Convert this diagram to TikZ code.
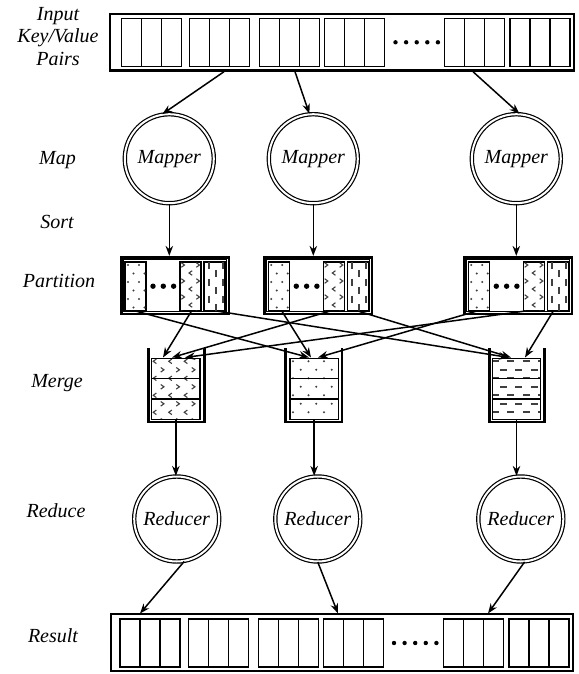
\documentclass[tikz,border=0pt]{standalone}
\usepackage{fontspec}
\setmainfont{Liberation Serif}
\usetikzlibrary{arrows.meta,calc}
\tikzset{
  lab/.style={font=\itshape\fontsize{20}{22.5}\selectfont, align=center, inner sep=0pt},
  proc/.style={circle, draw, double, line width=1.2pt, double distance=2pt, inner sep=0pt,
               font=\itshape\fontsize{20}{24}\selectfont},
  bigbox/.style={draw, line width=2.4pt, minimum width=463.6pt, minimum height=56.6pt, inner sep=0pt},
  cell/.style={draw, line width=1.1pt, minimum width=20pt, minimum height=48pt, inner sep=0pt},
  pbox/.style={draw, line width=2.6pt, minimum width=107.6pt, minimum height=56.6pt, inner sep=0pt},
  pcell/.style={draw, line width=1.1pt, minimum width=21pt, minimum height=48.5pt, inner sep=0pt},
  bin/.style={draw, line width=1.4pt, minimum width=48.3pt, minimum height=61pt, inner sep=0pt},
  wall/.style={line width=2.7pt},
  arr/.style={-{Stealth[length=10pt,width=7.5pt]}, line width=1.5pt},
  patc/.style={black!75},
  pics/pdot/.style={code={\fill[patc] (0,0) circle (1.15pt);}},
  pics/pchl/.style={code={\draw[patc, line width=1.1pt] (1.7,-2.3) -- (-1.5,0) -- (1.7,2.3);}},
  pics/pchr/.style={code={\draw[patc, line width=1.1pt] (-1.7,-2.3) -- (1.5,0) -- (-1.7,2.3);}},
  pics/phd/.style={code={\draw[patc, line width=2.1pt] (-3.5,0) -- (3.5,0);}},
  pics/pvd/.style={code={\draw[patc, line width=2.1pt] (0,-3.5) -- (0,3.5);}},
}
% #1 pic even rows, #2 pic odd rows, #3 x1, #4 y1, #5 x2, #6 y2, #7 dx, #8 dy
\newcommand\patfill[8]{%
  \begin{scope}
    \clip (#3,#4) rectangle (#5,#6);
    \foreach \j in {0,2,...,10}{\foreach \i in {0,...,6}{
      \pic at ({#3+3+\i*#7},{#4+3+\j*#8}) {#1};
      \pic at ({#3+3+\i*#7+#7/2},{#4+3+(\j+1)*#8}) {#2};
    }}
  \end{scope}}
% partition box: #1 name, #2 left x
\newcommand\partbox[2]{%
  \node[pbox] (#1) at (#2+55,285.5) {};
  \draw[line width=1pt] (#2+3.5,259.3) rectangle (#2+106.5,311.8);
  \node[pcell] (#1c1) at (#2+15.5,286.2) {};
  \node[pcell] (#1c2) at (#2+70.5,286.2) {};
  \node[pcell] (#1c3) at (#2+94.5,286.2) {};
  \patfill{pdot}{pdot}{#2+5}{262}{#2+26}{310.5}{11}{8.5}
  \patfill{pchr}{pchl}{#2+60}{262}{#2+81}{310.5}{15}{8}
  \patfill{pvd}{pvd}{#2+86}{262}{#2+105}{310.5}{14}{8.5}
  \foreach \d in {0,1,2} \fill (#2+33+\d*10.3,286.2) circle (2.7pt);
}
% bucket: #1 name, #2 inner left, #3 inner right, #4 wall left, #5 wall right, #6 pic even, #7 pic odd
\newcommand\bucket[7]{%
  \patfill{#6}{#7}{#2}{358.3}{#3}{419.3}{15.5}{8.5}
  \node[bin] (#1) at ({(#2+#3)/2},388.8) {};
  \draw[line width=1.4pt] (#2,378.6) -- (#3,378.6) (#2,399) -- (#3,399);
  \draw[wall] (#4,348.3) -- (#4,422) -- (#5,422) -- (#5,348.3);
}
\begin{document}
\begin{tikzpicture}[x=1pt,y=-1pt]
\useasboundingbox (0,0) rectangle (578,674);

% left labels
\node[lab] (lin) at (58,36.5) {Input\\Key/Value\\Pairs};
\node[lab] (lmap) at (57.5,160) {Map};
\node[lab] (lsort) at (57,222) {Sort};
\node[lab] (lpart) at (59,281) {Partition};
\node[lab] (lmerge) at (57,383) {Merge};
\node[lab] (lred) at (56,511) {Reduce};
\node[lab] (lres) at (53,636) {Result};

% input box
\node[bigbox] (inp) at (342,42.2) {};
\foreach \gx [count=\g] in {121.7,189.3,259.7,324.7,444.3,510}
  \foreach \c in {0,1,2}
    \node[cell] (in\g c\c) at (\gx+10+\c*20,42.3) {};
\foreach \d in {0,...,4} \fill (395.5+\d*10.6,42.3) circle (2.2pt);

% result box
\node[bigbox, minimum width=461.6pt] (out) at (342,642.5) {};
\foreach \gx [count=\g] in {120,188.3,258.3,323.3,443.3,509}
  \foreach \c in {0,1,2}
    \node[cell] (out\g c\c) at (\gx+10+\c*20,643) {};
\foreach \d in {0,...,4} \fill (394+\d*10.6,643) circle (2.2pt);

% mappers
\node[proc, minimum size=89pt] (m1) at (169.3,158.7) {Mapper};
\node[proc, minimum size=89pt] (m2) at (313.3,158.7) {Mapper};
\node[proc, minimum size=89pt] (m3) at (516.3,158.7) {Mapper};

% reducers
\node[proc, minimum size=85pt] (r1) at (176.7,519) {Reducer};
\node[proc, minimum size=85pt] (r2) at (317.8,519) {Reducer};
\node[proc, minimum size=85pt] (r3) at (520.8,519) {Reducer};

% partitions
\partbox{p1}{120}
\partbox{p2}{263.3}
\partbox{p3}{463.3}

% buckets
\bucket{b1}{151.7}{200}{148.5}{204.8}{pchl}{pchr}
\bucket{b2}{290}{338.3}{285.2}{342.1}{pdot}{pdot}
\bucket{b3}{492.3}{540.7}{489.5}{544.5}{phd}{phd}

% input -> mappers
\coordinate (i1) at (224,71.7);
\coordinate (i2) at (295,71.7);
\coordinate (i3) at (473,71.7);
\draw[arr] (i1) -- (m1.99);
\draw[arr] (i2) -- (m2.95);
\draw[arr] (i3) -- (m3.86);

% mappers -> partitions
\draw[arr] (m1.south) -- (m1.south |- p1.north);
\draw[arr] (m2.south) -- (m2.south |- p2.north);
\draw[arr] (m3.south) -- (m3.south |- p3.north);

% partitions -> buckets
\coordinate (b1a) at (163,357.5);
\coordinate (b1b) at (172,357.5);
\coordinate (b1c) at (185,357.5);
\coordinate (b2a) at (309,357.5);
\coordinate (b2b) at (311,357.5);
\coordinate (b2c) at (318,357.5);
\coordinate (b3a) at (509,357.5);
\coordinate (b3b) at (511,357.5);
\coordinate (b3c) at (525,357.5);
\draw[arr] ([xshift=1pt]p1c2.south) -- (b1a);
\draw[arr] ([xshift=-3.5pt]p2c2.south) -- (b1b);
\draw[arr] ([xshift=-8.5pt]p3c2.south) -- (b1c);
\draw[arr] (p1c1.south) -- (b2a);
\draw[arr] ([xshift=3pt]p2c1.south) -- (b2b);
\draw[arr] ([xshift=-2pt]p3c1.south) -- (b2c);
\draw[arr] ([xshift=2pt]p1c3.south) -- (b3a);
\draw[arr] (p2c3.south) -- (b3b);
\draw[arr] ([xshift=-4.5pt]p3c3.south) -- (b3c);

% buckets -> reducers
\draw[arr] (b1.south) -- (b1.south |- r1.north);
\draw[arr] (b2.south) -- (b2.south |- r2.north);
\draw[arr] (b3.south) -- (b3.south |- r3.north);

% reducers -> result
\coordinate (o1) at (140,613.5);
\coordinate (o2) at (338,613.5);
\coordinate (o3) at (488,613.5);
\draw[arr] (r1.-80) -- (o1);
\draw[arr] (r2.-90) -- (o2);
\draw[arr] (r3.-85) -- (o3);
\end{tikzpicture}
\end{document}
